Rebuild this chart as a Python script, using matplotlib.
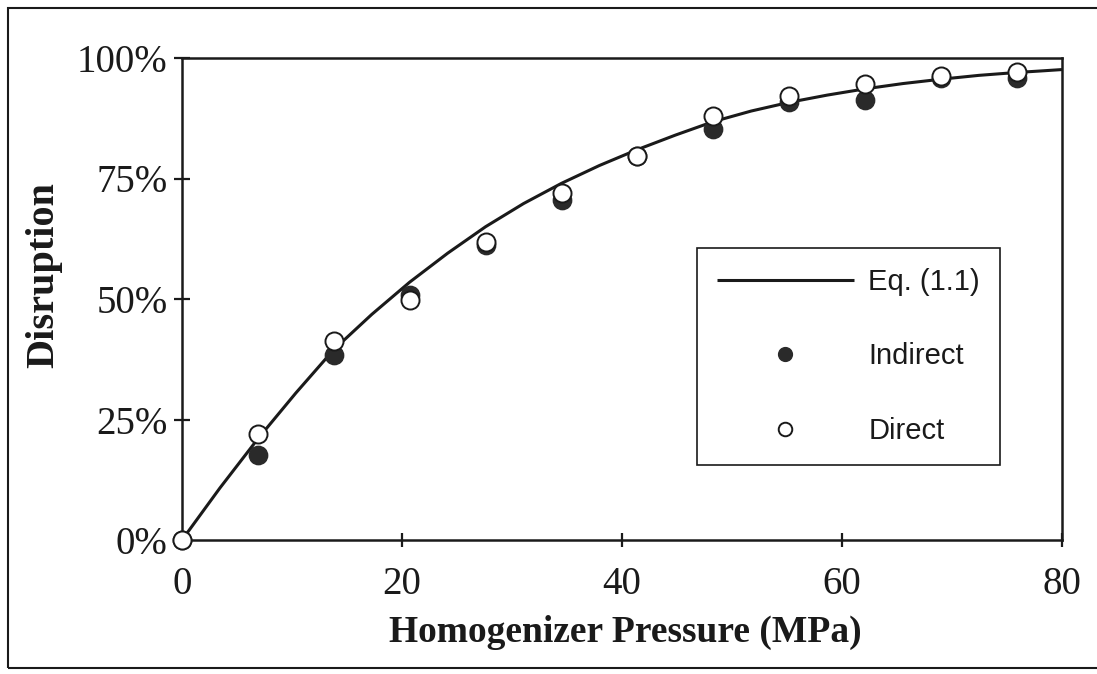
import matplotlib
matplotlib.use("Agg")
import matplotlib.pyplot as plt
from matplotlib.patches import Rectangle
from matplotlib.ticker import FuncFormatter

# Data
pressure = [0, 6.9, 13.8, 20.7, 27.6, 34.5, 41.4, 48.3, 55.2, 62.1, 69.0, 75.9]
indirect = [0, 17.6, 38.4, 50.8, 61.2, 70.5, 79.7, 85.3, 90.8, 91.3, 95.9, 95.9]
direct = [0, 22.0, 41.3, 49.8, 61.8, 72.0, 79.7, 88.0, 92.1, 94.6, 96.3, 97.1]

curve_x = [0, 3.45, 6.9, 10.35, 13.8, 17.25, 20.7, 24.15, 27.6, 31.05, 34.5, 37.95,
           41.4, 44.85, 48.3, 51.75, 55.2, 58.65, 62.1, 65.55, 69.0, 72.45, 75.9, 78.0, 80.0]
curve_y = [0, 10.8, 21.0, 30.5, 39.5, 46.8, 53.5, 59.5, 65.0, 69.8, 74.0, 77.7,
           81.0, 84.0, 86.8, 89.0, 90.8, 92.3, 93.6, 94.7, 95.6, 96.4, 97.0, 97.3, 97.6]

x_ticks = [0, 20, 40, 60, 80]
y_ticks = [0, 25, 50, 75, 100]

W, H = 1097, 674
fig = plt.figure(figsize=(W / 100, H / 100), dpi=100)
ax = fig.add_axes([182 / W, 1 - 540 / H, (1062 - 182) / W, (540 - 58) / H])

ax.plot(curve_x, curve_y, color="#1a1a1a", lw=2.2, zorder=2, label="Eq. (1.1)",
        solid_capstyle="butt")
ax.plot(pressure, indirect, ls="none", marker="o", ms=13, mfc="#2a2a2a", mec="#2a2a2a",
        mew=1.2, zorder=3, clip_on=False, label="Indirect")
ax.plot(pressure, direct, ls="none", marker="o", ms=13, mfc="white", mec="#1a1a1a",
        mew=1.4, zorder=4, clip_on=False, label="Direct")

ax.set_xlim(0, 80)
ax.set_ylim(0, 100)
ax.set_xticks(x_ticks)
ax.set_yticks(y_ticks)
ax.yaxis.set_major_formatter(FuncFormatter(lambda v, p: f"{int(v)}%"))

for s in ax.spines.values():
    s.set_linewidth(1.8)
    s.set_color("#1a1a1a")

ax.tick_params(axis="both", direction="inout", width=1.6, color="#1a1a1a",
               labelsize=28, labelcolor="#1a1a1a")
ax.tick_params(axis="y", length=11, pad=5)
ax.tick_params(axis="x", length=10, pad=14)
for lab in ax.get_xticklabels() + ax.get_yticklabels():
    lab.set_fontfamily("Liberation Serif")

ax.set_xlabel("Homogenizer Pressure (MPa)", fontfamily="Liberation Serif",
              fontweight="bold", fontsize=27, color="#1a1a1a")
ax.xaxis.set_label_coords((625 - 182) / 880, (540 - 615) / 482)
ax.set_ylabel("Disruption", fontfamily="Liberation Serif", fontweight="bold",
              fontsize=29, color="#1a1a1a")
ax.yaxis.set_label_coords((62 - 182) / 880, (540 - 275) / 482)

leg = ax.legend(loc="upper left", bbox_to_anchor=((697 - 182) / 880, (540 - 248) / 482),
                frameon=True, fancybox=False, edgecolor="#1a1a1a", framealpha=1,
                prop={"family": "Liberation Sans", "size": 21}, handlelength=4.7,
                handletextpad=0.5, labelspacing=1.6, borderpad=0.68, markerscale=0.75,
                borderaxespad=0)
leg.get_frame().set_linewidth(1.2)
for t in leg.get_texts():
    t.set_color("#1a1a1a")

fig.patches.append(Rectangle((8 / W, 1 - 668 / H), 1.2, (668 - 8) / H,
                             transform=fig.transFigure, fill=False, lw=1.5,
                             edgecolor="#1a1a1a"))

fig.savefig("out.png", dpi=100)
